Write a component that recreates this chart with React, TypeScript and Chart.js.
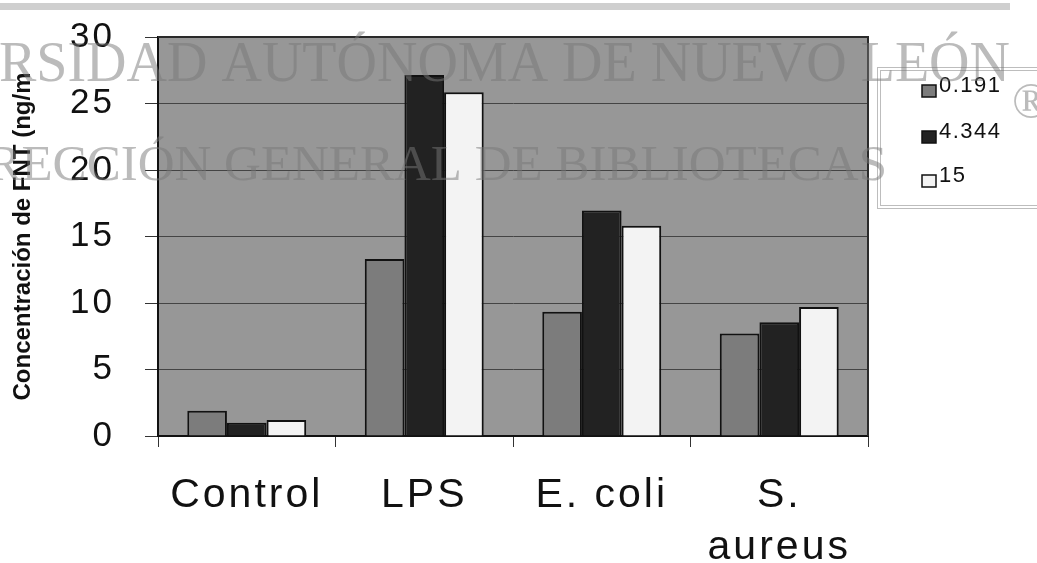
import React, { useEffect, useRef } from "react";
import { Chart, registerables } from "chart.js";

Chart.register(...registerables);

// ---- data ----
const categories: (string | string[])[] = ["Control", "LPS", "E. coli", ["S.", "aureus"]];
const seriesLabels = ["0.191", "4.344", "15"];
const values0191 = [1.9, 13.3, 9.35, 7.7];
const values4344 = [1.0, 27.15, 16.95, 8.55];
const values15 = [1.2, 25.85, 15.8, 9.7];
const seriesColors = ["#7c7c7c", "#222222", "#f3f3f3"];
const yMin = 0;
const yMax = 30;
const yStep = 5;
const yTitle = "Concentración de FNT (ng/m";
const watermarkLine1 = "UNIVERSIDAD AUTÓNOMA DE NUEVO LEÓN";
const watermarkLine2 = "DIRECCIÓN GENERAL DE BIBLIOTECAS";

const W = 1037;
const H = 563;
const SANS = "'Liberation Sans', Arial, sans-serif";
const SERIF = "'Liberation Serif', 'Times New Roman', serif";

const decorPlugin = {
  id: "decor",
  beforeDraw(chart: any) {
    const { ctx, chartArea } = chart;
    ctx.save();
    ctx.fillStyle = "#ffffff";
    ctx.fillRect(0, 0, W, H);
    // scan strip at top
    ctx.fillStyle = "#cfcfcf";
    ctx.fillRect(0, 3, 1010, 7);
    // plot background
    ctx.fillStyle = "#979797";
    ctx.fillRect(chartArea.left, chartArea.top, chartArea.right - chartArea.left, chartArea.bottom - chartArea.top);
    ctx.restore();
    (ctx as any).letterSpacing = "3px";
  },
  beforeDatasetsDraw(chart: any) {
    const { ctx, chartArea } = chart;
    (ctx as any).letterSpacing = "0px";
    ctx.save();
    ctx.strokeStyle = "#2a2a2a";
    ctx.lineWidth = 2;
    ctx.beginPath();
    ctx.moveTo(chartArea.left, chartArea.top);
    ctx.lineTo(chartArea.right, chartArea.top);
    ctx.lineTo(chartArea.right, chartArea.bottom);
    ctx.stroke();
    // y-axis title
    ctx.translate(23, (chartArea.top + chartArea.bottom) / 2);
    ctx.rotate(-Math.PI / 2);
    ctx.font = `bold 24px ${SANS}`;
    ctx.fillStyle = "#111";
    ctx.textAlign = "center";
    ctx.textBaseline = "middle";
    ctx.fillText(yTitle, 0, 0);
    ctx.restore();
  },
  afterDraw(chart: any) {
    const { ctx } = chart;
    (ctx as any).letterSpacing = "0px";
    ctx.save();
    // legend box
    ctx.strokeStyle = "#bdbdbd";
    ctx.lineWidth = 1;
    ctx.strokeRect(877.5, 67.5, 200, 141);
    ctx.strokeRect(880.5, 70.5, 200, 135);
    const tops = [85, 131, 175];
    ctx.font = `22px ${SANS}`;
    (ctx as any).letterSpacing = "1.5px";
    ctx.textAlign = "left";
    ctx.textBaseline = "alphabetic";
    chart.data.datasets.forEach((ds: any, i: number) => {
      ctx.fillStyle = ds.backgroundColor;
      ctx.fillRect(922, tops[i], 14, 12);
      ctx.strokeStyle = "#111";
      ctx.lineWidth = 1.5;
      ctx.strokeRect(922, tops[i], 14, 12);
      ctx.fillStyle = "#111";
      ctx.fillText(ds.label, 939, tops[i] + 7);
    });
    (ctx as any).letterSpacing = "0px";
    // watermark
    ctx.fillStyle = "rgba(120,120,120,0.5)";
    ctx.textAlign = "right";
    ctx.font = `56px ${SERIF}`;
    ctx.fillText(watermarkLine1, 1010, 81);
    ctx.font = `51px ${SERIF}`;
    ctx.fillText(watermarkLine2, 887, 180);
    ctx.font = `50px ${SERIF}`;
    ctx.textAlign = "left";
    ctx.fillText("®", 1012, 118);
    ctx.restore();
  },
};

export default function App() {
  const ref = useRef<HTMLCanvasElement | null>(null);

  useEffect(() => {
    if (!ref.current) return;
    const chart = new Chart(ref.current, {
      type: "bar",
      data: {
        labels: categories as any,
        datasets: [
          { label: seriesLabels[0], data: values0191, backgroundColor: seriesColors[0], borderColor: "#111", borderWidth: 2 },
          { label: seriesLabels[1], data: values4344, backgroundColor: seriesColors[1], borderColor: "#111", borderWidth: 2 },
          { label: seriesLabels[2], data: values15, backgroundColor: seriesColors[2], borderColor: "#111", borderWidth: 2 },
        ],
      },
      options: {
        responsive: false,
        animation: false,
        devicePixelRatio: 1,
        layout: { padding: { top: 37, right: 169, bottom: 0, left: 0 } },
        datasets: { bar: { categoryPercentage: 0.67, barPercentage: 1 } },
        plugins: { legend: { display: false }, tooltip: { enabled: false } },
        scales: {
          x: {
            grid: { display: true, drawOnChartArea: false, drawTicks: true, tickLength: 11, color: "#333", offset: true },
            border: { display: true, color: "#111", width: 2 },
            ticks: { color: "#111", padding: 23, font: { family: SANS, size: 41, lineHeight: 1.27 }, maxRotation: 0, autoSkip: false },
            afterFit: (s: any) => { s.height = H - 436; s.paddingLeft = 0; s.paddingRight = 0; },
          },
          y: {
            min: yMin,
            max: yMax,
            ticks: { stepSize: yStep, color: "#111", padding: 30, font: { family: SANS, size: 35 } },
            grid: { color: "#444", lineWidth: 1, tickLength: 13, tickColor: "#333" },
            border: { display: true, color: "#111", width: 2 },
            title: { display: false, text: yTitle },
            afterFit: (s: any) => { s.width = 158; s.paddingTop = 0; s.paddingBottom = 0; },
          },
        },
      },
      plugins: [decorPlugin],
    } as any);
    return () => chart.destroy();
  }, []);

  return (
    <div style={{ position: "fixed", left: 0, top: 0, width: W, height: H, background: "#fff" }}>
      <canvas ref={ref} width={W} height={H} style={{ display: "block", width: W, height: H }} />
    </div>
  );
}
